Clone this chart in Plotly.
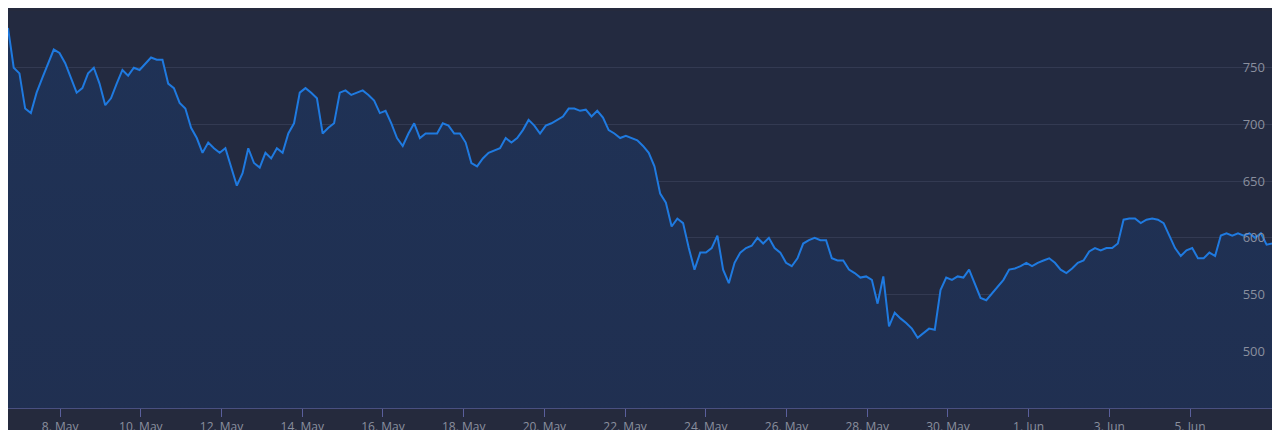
import pandas as pd
import plotly.graph_objects as go

# price readings, evenly spaced from 6 May 17:00 to 7 Jun 04:20
price = [
    785, 750, 745, 714, 710, 728, 741, 754, 766, 763, 754, 741, 728, 732, 745, 750,
    736, 717, 723, 736, 748, 743, 750, 748, 754, 759, 757, 757, 736, 732, 719, 714,
    697, 688, 675, 684, 679, 675, 679, 662, 646, 657, 679, 666, 662, 675, 670, 679,
    675, 692, 701, 728, 732, 728, 723, 692, 697, 701, 728, 730, 726, 728, 730, 726,
    721, 710, 712, 701, 688, 681, 692, 701, 688, 692, 692, 692, 701, 699, 692, 692,
    684, 666, 663, 670, 675, 677, 679, 688, 684, 688, 695, 704, 699, 692, 699, 701,
    704, 707, 714, 714, 712, 713, 707, 712, 706, 695, 692, 688, 690, 688, 686, 681,
    675, 663, 639, 631, 610, 617, 613, 591, 572, 587, 587, 591, 602, 572, 560, 578,
    587, 591, 593, 600, 595, 600, 591, 587, 578, 575, 582, 595, 598, 600, 598, 598,
    582, 580, 580, 572, 569, 565, 566, 563, 542, 566, 522, 534, 529, 525, 520, 512,
    516, 520, 519, 554, 565, 563, 566, 565, 572, 560, 547, 545, 551, 556, 563, 572,
    573, 575, 578, 575, 578, 580, 582, 578, 572, 569, 573, 578, 580, 588, 591, 589,
    591, 591, 595, 616, 617, 617, 613, 616, 617, 616, 613, 602, 591, 584, 589, 591,
    582, 582, 587, 584, 602, 604, 602, 604, 602, 604, 600, 604, 594, 595, 602,
]
start = "2016-05-06 17:00"
end = "2016-06-07 04:20"
x_range = ["2016-05-06 17:00", "2016-06-07 05:30"]
y_range = [450, 800]
tick_dates = ["2016-05-%02d" % d for d in range(8, 31, 2)] + ["2016-06-01", "2016-06-03", "2016-06-05"]

times = pd.date_range(start, end, periods=len(price))

fig = go.Figure()
fig.add_scatter(
    x=times, y=price, mode='lines',
    line=dict(color='#1f7ae0', width=2),
    fill='tozeroy',
    fillgradient=dict(type='vertical', colorscale=[[0, '#212c4a'], [1, '#1f3256']]),
    hoverinfo='x+y',
)

fig.update_layout(
    width=1280, height=430,
    margin=dict(l=0, r=8, t=3, b=30),
    paper_bgcolor='#252a3d',
    plot_bgcolor='#232a40',
    showlegend=False,
    font=dict(family='Open Sans', color='#8a8f9e', size=13),
)
fig.update_xaxes(
    range=x_range, tickvals=tick_dates, tickformat='%-d. %b',
    ticks='outside', ticklen=8, tickcolor='#5a5f9c',
    tickfont=dict(color='#8a8f9e', size=12),
    showline=True, linecolor='#4a5080', showgrid=False, automargin=False,
)
fig.update_yaxes(
    range=y_range, dtick=50, side='right', ticklabelposition='inside',
    ticklabelstandoff=12, tickfont=dict(color='#8a8f9e', size=13),
    gridcolor='#333a52', zeroline=False, automargin=False,
)

fig.write_html("out.html")
